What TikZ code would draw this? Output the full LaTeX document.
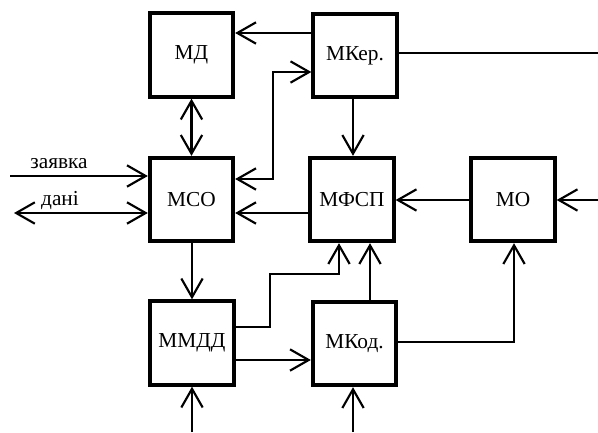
\documentclass[tikz,border=0pt]{standalone}
\usepackage{fontspec}
\setmainfont{Liberation Serif}
\usetikzlibrary{arrows.meta}
\begin{document}
\begin{tikzpicture}[x=0.75pt,y=-0.75pt,
  box/.style={draw,line width=3pt,minimum width=62.5pt,minimum height=62.5pt,inner sep=0pt,font=\fontsize{16}{19}\selectfont},
  lbl/.style={anchor=base,inner sep=0pt,font=\fontsize{16}{19}\selectfont},
  conn/.style={line width=1.6pt},
  >={Straight Barb[length=14pt,width=16pt]}]
\useasboundingbox (0,0) rectangle (598,432);
\node[box] (MD) at (191.5,55) {МД};
\node[box] (MSO) at (191.5,199.5) {МСО};
\node[box] (MKer) at (355,55.5) {МКер.};
\node[box] (MFSP) at (352,199.5) {МФСП};
\node[box] (MO) at (513,199.5) {МО};
\node[box] (MMDD) at (192,343) {ММДД};
\node[box] (MKod) at (354.5,343.5) {МКод.};
\coordinate (inZ) at (10,176);
\coordinate (inD) at (14,213);
\coordinate (outK) at (598,53);
\coordinate (inO) at (598,200);
\coordinate (inM) at (192,432);
\coordinate (inK) at (353,432);
\node[lbl] (tZ) at (59,168) {заявка};
\node[lbl] (tD) at (60,205) {дані};
% connectors
\draw[conn,->] (MKer.west |- 0,33) -- (MD.east |- 0,33);
\draw[conn,<->] (MD.south) -- (MSO.north);
\draw[conn,<->] (MSO.east |- 0,179) -- (273,179) -- (273,72) -- (MKer.west |- 0,72);
\draw[conn,->] (inZ) -- (MSO.west |- inZ);
\draw[conn,<->] (inD) -- (MSO.west |- inD);
\draw[conn,->] (MFSP.west |- 0,213) -- (MSO.east |- 0,213);
\draw[conn,->] (MKer.south -| 353,0) -- (MFSP.north -| 353,0);
\draw[conn] (MKer.east |- outK) -- (outK);
\draw[conn,->] (MO.west |- 0,200) -- (MFSP.east |- 0,200);
\draw[conn,->] (inO) -- (MO.east |- inO);
\draw[conn,->] (MSO.south -| 192,0) -- (MMDD.north);
\draw[conn,->] (MMDD.east |- 0,327) -- (270,327) -- (270,274) -- (339,274) -- (MFSP.south -| 339,0);
\draw[conn,->] (MKod.north -| 370,0) -- (MFSP.south -| 370,0);
\draw[conn,->] (MMDD.east |- 0,360) -- (MKod.west |- 0,360);
\draw[conn,->] (MKod.east |- 0,342) -- (514,342) -- (MO.south -| 514,0);
\draw[conn,->] (inM) -- (MMDD.south);
\draw[conn,->] (inK) -- (MKod.south -| inK);
\end{tikzpicture}
\end{document}
